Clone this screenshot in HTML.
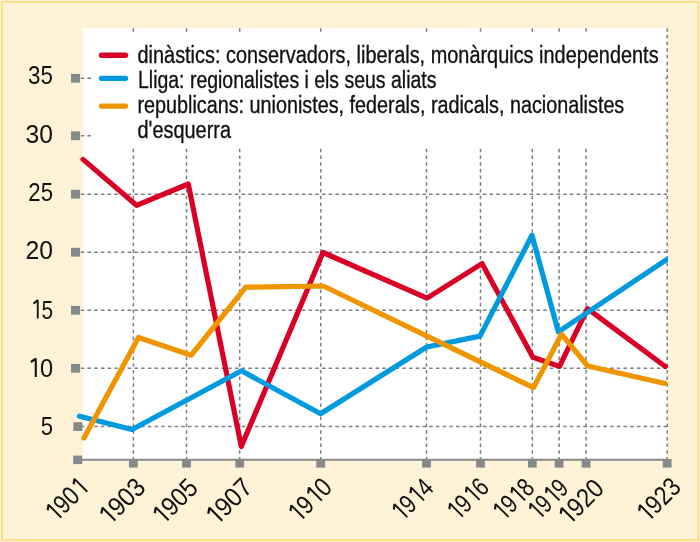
<!DOCTYPE html><html><head><meta charset="utf-8"><style>html,body{margin:0;padding:0;width:700px;height:542px;overflow:hidden;background:#fff3d7}svg{display:block}text{font-family:"Liberation Sans",sans-serif;fill:#111111}.tg{opacity:0.999;will-change:transform}</style></head><body><svg width="700" height="542" viewBox="0 0 700 542"><rect x="0" y="0" width="700" height="542" fill="#fff3d7"/><rect x="1.85" y="1.85" width="696.35" height="538.15" fill="none" stroke="#fedb7e" stroke-width="1.7"/><rect x="83" y="28" width="585" height="431" fill="#ffffff"/><line x1="80.8" y1="78.3" x2="667" y2="78.3" stroke="#7c7e81" stroke-width="1.5" stroke-dasharray="3.5 3.2"/><line x1="80.8" y1="135.8" x2="667" y2="135.8" stroke="#7c7e81" stroke-width="1.5" stroke-dasharray="3.5 3.2"/><line x1="80.8" y1="194.2" x2="667" y2="194.2" stroke="#7c7e81" stroke-width="1.5" stroke-dasharray="3.5 3.2"/><line x1="80.8" y1="252.2" x2="667" y2="252.2" stroke="#7c7e81" stroke-width="1.5" stroke-dasharray="3.5 3.2"/><line x1="80.8" y1="310.3" x2="667" y2="310.3" stroke="#7c7e81" stroke-width="1.5" stroke-dasharray="3.5 3.2"/><line x1="80.8" y1="368.3" x2="667" y2="368.3" stroke="#7c7e81" stroke-width="1.5" stroke-dasharray="3.5 3.2"/><line x1="80.8" y1="426.6" x2="667" y2="426.6" stroke="#7c7e81" stroke-width="1.5" stroke-dasharray="3.5 3.2"/><line x1="133.4" y1="28.2" x2="133.4" y2="459" stroke="#7c7e81" stroke-width="1.5" stroke-dasharray="3.5 3.2"/><line x1="186.5" y1="28.2" x2="186.5" y2="459" stroke="#7c7e81" stroke-width="1.5" stroke-dasharray="3.5 3.2"/><line x1="239.7" y1="28.2" x2="239.7" y2="459" stroke="#7c7e81" stroke-width="1.5" stroke-dasharray="3.5 3.2"/><line x1="320.7" y1="28.2" x2="320.7" y2="459" stroke="#7c7e81" stroke-width="1.5" stroke-dasharray="3.5 3.2"/><line x1="426.5" y1="28.2" x2="426.5" y2="459" stroke="#7c7e81" stroke-width="1.5" stroke-dasharray="3.5 3.2"/><line x1="480.5" y1="28.2" x2="480.5" y2="459" stroke="#7c7e81" stroke-width="1.5" stroke-dasharray="3.5 3.2"/><line x1="532.3" y1="28.2" x2="532.3" y2="459" stroke="#7c7e81" stroke-width="1.5" stroke-dasharray="3.5 3.2"/><line x1="559.1" y1="28.2" x2="559.1" y2="459" stroke="#7c7e81" stroke-width="1.5" stroke-dasharray="3.5 3.2"/><line x1="586.1" y1="28.2" x2="586.1" y2="459" stroke="#7c7e81" stroke-width="1.5" stroke-dasharray="3.5 3.2"/><line x1="667.2" y1="28.2" x2="667.2" y2="459" stroke="#7c7e81" stroke-width="1.5" stroke-dasharray="3.5 3.2"/><rect x="92" y="33" width="573.5" height="115" fill="#ffffff"/><line x1="78" y1="459.8" x2="668" y2="459.8" stroke="#868989" stroke-width="2"/><rect x="71" y="73.89999999999999" width="9" height="8.8" fill="#868989"/><rect x="71" y="131.4" width="9" height="8.8" fill="#868989"/><rect x="71" y="189.79999999999998" width="9" height="8.8" fill="#868989"/><rect x="71" y="247.79999999999998" width="9" height="8.8" fill="#868989"/><rect x="71" y="305.90000000000003" width="9" height="8.8" fill="#868989"/><rect x="71" y="363.90000000000003" width="9" height="8.8" fill="#868989"/><rect x="73.3" y="422.20000000000005" width="9" height="8.8" fill="#868989"/><rect x="73.2" y="455.6" width="9" height="8.5" fill="#868989"/><rect x="129.0" y="459" width="8.8" height="8.6" fill="#868989"/><rect x="182.1" y="459" width="8.8" height="8.6" fill="#868989"/><rect x="235.29999999999998" y="459" width="8.8" height="8.6" fill="#868989"/><rect x="316.3" y="459" width="8.8" height="8.6" fill="#868989"/><rect x="422.1" y="459" width="8.8" height="8.6" fill="#868989"/><rect x="476.1" y="459" width="8.8" height="8.6" fill="#868989"/><rect x="527.9" y="459" width="8.8" height="8.6" fill="#868989"/><rect x="554.7" y="459" width="8.8" height="8.6" fill="#868989"/><rect x="581.7" y="459" width="8.8" height="8.6" fill="#868989"/><rect x="662.8000000000001" y="459" width="8.8" height="8.6" fill="#868989"/><defs><clipPath id="cp"><rect x="60" y="20" width="608" height="460"/></clipPath></defs><g clip-path="url(#cp)"><polyline points="83,159.4 136.5,205.3 188.3,184 241.3,446.6 323,252.5 427,298.1 482,263.6 532.9,357.3 559.5,366.4 587.5,308.6 665.3,366.5" fill="none" stroke="#da0025" stroke-width="5.2" stroke-linejoin="round" stroke-linecap="round"/><polyline points="79.5,416.2 132,429.5 241.5,370.8 320.6,413.8 426.7,347 480,336.1 532,235.3 558.3,331.8 666.2,259.8" fill="none" stroke="#009ade" stroke-width="5.2" stroke-linejoin="round" stroke-linecap="round"/><polyline points="84,438 138.5,337.5 191.2,355.2 245.8,287.2 323.3,286 533.5,387.6 561.5,334.2 587.7,366 665,383.5" fill="none" stroke="#ee9500" stroke-width="5.2" stroke-linejoin="round" stroke-linecap="round"/></g><line x1="101.5" y1="55.25" x2="125.5" y2="55.25" stroke="#da0025" stroke-width="5.3" stroke-linecap="round"/><line x1="101.5" y1="78.3" x2="125.5" y2="78.3" stroke="#009ade" stroke-width="5.3" stroke-linecap="round"/><line x1="101.5" y1="106.1" x2="125.5" y2="106.1" stroke="#ee9500" stroke-width="5.3" stroke-linecap="round"/><g class="tg"><text font-size="24.5" stroke="#111111" stroke-width="0.35" transform="translate(137.5 62.6) scale(0.8129 1)">dinàstics: conservadors, liberals, monàrquics independents</text><text font-size="24.5" stroke="#111111" stroke-width="0.35" transform="translate(138.0 87.7) scale(0.7945 1)">Lliga: regionalistes i els seus aliats</text><text font-size="24.5" stroke="#111111" stroke-width="0.35" transform="translate(137.5 112.8) scale(0.8074 1)">republicans: unionistes, federals, radicals, nacionalistes</text><text font-size="24.5" stroke="#111111" stroke-width="0.35" transform="translate(137.5 137.7) scale(0.814 1)">d'esquerra</text><g transform="translate(53.0 84.35) scale(0.844 1)"><text font-size="26.5" text-anchor="end">35</text></g><g transform="translate(53.0 142.75) scale(0.9309 1)"><text font-size="26.5" text-anchor="end">30</text></g><g transform="translate(53.0 200.75) scale(0.8373 1)"><text font-size="26.5" text-anchor="end">25</text></g><g transform="translate(53.0 259.35) scale(0.9309 1)"><text font-size="26.5" text-anchor="end">20</text></g><g transform="translate(53.0 318.5) scale(0.7871 1)"><text font-size="26.5" text-anchor="end"> 5</text><path d="M-24.82 -14.88 L-19.38 -18.23 L-19.38 0" fill="none" stroke="#111111" stroke-width="2.33" stroke-linejoin="bevel"/></g><g transform="translate(53.0 376.9) scale(0.8891 1)"><text font-size="26.5" text-anchor="end"> 0</text><path d="M-24.82 -14.88 L-19.38 -18.23 L-19.38 0" fill="none" stroke="#111111" stroke-width="2.33" stroke-linejoin="bevel"/></g><g transform="translate(53.0 435.1) scale(0.8334 1)"><text font-size="26.5" text-anchor="end">5</text></g><g transform="translate(90.0 489.0) rotate(-45) scale(0.8281 1)"><text font-size="26.5" text-anchor="end"> 90 </text><path d="M-54.29 -14.88 L-48.86 -18.23 L-48.86 0" fill="none" stroke="#111111" stroke-width="2.33" stroke-linejoin="bevel"/><path d="M-10.08 -14.88 L-4.65 -18.23 L-4.65 0" fill="none" stroke="#111111" stroke-width="2.33" stroke-linejoin="bevel"/></g><g transform="translate(147.0 489.0) rotate(-45) scale(0.9144 1)"><text font-size="26.5" text-anchor="end"> 903</text><path d="M-54.29 -14.88 L-48.86 -18.23 L-48.86 0" fill="none" stroke="#111111" stroke-width="2.33" stroke-linejoin="bevel"/></g><g transform="translate(199.5 489.5) rotate(-45) scale(0.8909 1)"><text font-size="26.5" text-anchor="end"> 905</text><path d="M-54.29 -14.88 L-48.86 -18.23 L-48.86 0" fill="none" stroke="#111111" stroke-width="2.33" stroke-linejoin="bevel"/></g><g transform="translate(254.0 489.0) rotate(-45) scale(0.9182 1)"><text font-size="26.5" text-anchor="end"> 907</text><path d="M-54.29 -14.88 L-48.86 -18.23 L-48.86 0" fill="none" stroke="#111111" stroke-width="2.33" stroke-linejoin="bevel"/></g><g transform="translate(333.5 489.0) rotate(-45) scale(0.8465 1)"><text font-size="26.5" text-anchor="end"> 9 0</text><path d="M-54.29 -14.88 L-48.86 -18.23 L-48.86 0" fill="none" stroke="#111111" stroke-width="2.33" stroke-linejoin="bevel"/><path d="M-24.82 -14.88 L-19.38 -18.23 L-19.38 0" fill="none" stroke="#111111" stroke-width="2.33" stroke-linejoin="bevel"/></g><g transform="translate(435.0 489.5) rotate(-45) scale(0.8002 1)"><text font-size="26.5" text-anchor="end"> 9 4</text><path d="M-54.29 -14.88 L-48.86 -18.23 L-48.86 0" fill="none" stroke="#111111" stroke-width="2.33" stroke-linejoin="bevel"/><path d="M-24.82 -14.88 L-19.38 -18.23 L-19.38 0" fill="none" stroke="#111111" stroke-width="2.33" stroke-linejoin="bevel"/></g><g transform="translate(490.5 489.0) rotate(-45) scale(0.7975 1)"><text font-size="26.5" text-anchor="end"> 9 6</text><path d="M-54.29 -14.88 L-48.86 -18.23 L-48.86 0" fill="none" stroke="#111111" stroke-width="2.33" stroke-linejoin="bevel"/><path d="M-24.82 -14.88 L-19.38 -18.23 L-19.38 0" fill="none" stroke="#111111" stroke-width="2.33" stroke-linejoin="bevel"/></g><g transform="translate(536.0 489.5) rotate(-45) scale(0.794 1)"><text font-size="26.5" text-anchor="end"> 9 8</text><path d="M-54.29 -14.88 L-48.86 -18.23 L-48.86 0" fill="none" stroke="#111111" stroke-width="2.33" stroke-linejoin="bevel"/><path d="M-24.82 -14.88 L-19.38 -18.23 L-19.38 0" fill="none" stroke="#111111" stroke-width="2.33" stroke-linejoin="bevel"/></g><g transform="translate(570.0 490.0) rotate(-45) scale(0.7655 1)"><text font-size="26.5" text-anchor="end"> 9 9</text><path d="M-54.29 -14.88 L-48.86 -18.23 L-48.86 0" fill="none" stroke="#111111" stroke-width="2.33" stroke-linejoin="bevel"/><path d="M-24.82 -14.88 L-19.38 -18.23 L-19.38 0" fill="none" stroke="#111111" stroke-width="2.33" stroke-linejoin="bevel"/></g><g transform="translate(605.5 490.0) rotate(-45) scale(0.8928 1)"><text font-size="26.5" text-anchor="end"> 920</text><path d="M-54.29 -14.88 L-48.86 -18.23 L-48.86 0" fill="none" stroke="#111111" stroke-width="2.33" stroke-linejoin="bevel"/></g><g transform="translate(682.5 488.5) rotate(-45) scale(0.8555 1)"><text font-size="26.5" text-anchor="end"> 923</text><path d="M-54.29 -14.88 L-48.86 -18.23 L-48.86 0" fill="none" stroke="#111111" stroke-width="2.33" stroke-linejoin="bevel"/></g></g></svg></body></html>
